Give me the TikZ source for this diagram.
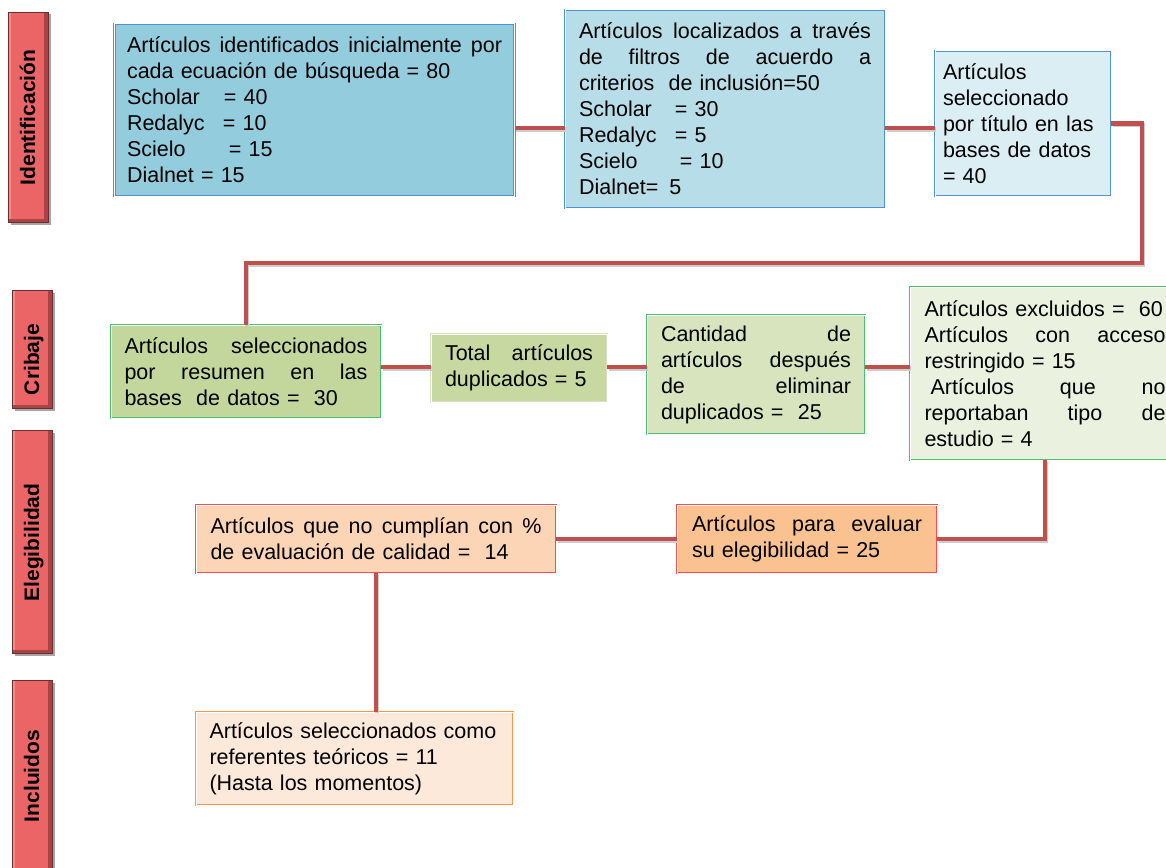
\documentclass[tikz,border=0pt]{standalone}
\usepackage{fontspec}
\setmainfont{Liberation Sans}
\usetikzlibrary{shadows}
\definecolor{bonefill}{HTML}{93CDDD}
\definecolor{btwofill}{HTML}{B7DEE8}
\definecolor{bthreefill}{HTML}{DBEEF4}
\definecolor{bblue}{HTML}{4F93D5}
\definecolor{conefill}{HTML}{C3D69B}
\definecolor{ctwofill}{HTML}{C7D9A1}
\definecolor{cthreefill}{HTML}{D7E4BD}
\definecolor{cfourfill}{HTML}{EBF1DF}
\definecolor{cgreen}{HTML}{4CC06F}
\definecolor{cfaint}{HTML}{D5E3C0}
\definecolor{eonefill}{HTML}{FBD5B5}
\definecolor{etwofill}{HTML}{FAC191}
\definecolor{ered}{HTML}{FF4A4A}
\definecolor{ionefill}{HTML}{FDE9D9}
\definecolor{iorange}{HTML}{F79646}
\definecolor{connred}{HTML}{C0504D}
\definecolor{barmid}{HTML}{EB6567}
\definecolor{barlight}{HTML}{F28C8C}
\definecolor{bardark}{HTML}{A84444}
\definecolor{bartop}{HTML}{6E2E2E}
\newcommand\jst[2]{{\spaceskip=\fontdimen2\font plus 1fil\relax\makebox[#1pt][s]{#2}}}
\newcommand\eqat[2]{\makebox[#1pt][l]{#2}}
\begin{document}
\begin{tikzpicture}[x=1pt,y=-1pt,
  box/.style={rectangle, inner xsep=0pt, inner ysep=2pt, align=left,
    font=\fontsize{21.5}{26}\selectfont, line width=0.6pt, double distance=1pt},
  conn/.style={draw=connred, line width=4.5pt,
    preaction={draw=black!20, line width=4.5pt, transform canvas={xshift=1.2pt, yshift=-1.5pt}}},
  bar/.style={rectangle, minimum width=40pt, inner sep=0pt, fill=barmid, draw=bartop, line width=0.8pt,
    drop shadow={shadow xshift=2.5pt, shadow yshift=-2.5pt, opacity=0.35, fill=black},
    path picture={
      \fill[barlight] (path picture bounding box.south west) rectangle ([xshift=3pt]path picture bounding box.north west);
      \fill[bardark] ([xshift=-4pt]path picture bounding box.south east) rectangle (path picture bounding box.north east);
      \fill[bardark] (path picture bounding box.south west) rectangle ([yshift=3pt]path picture bounding box.south east);
    }},
  barlbl/.style={rotate=90, font=\bfseries\fontsize{21}{24}\selectfont, text height=15pt, text depth=4.5pt, inner sep=0pt},
]
\useasboundingbox (0,0) rectangle (1166,867);

% side bars
\node[bar, minimum height=210pt] (barI) at (28,117) {};
\node[bar, minimum height=118pt] (barC) at (32,349) {};
\node[bar, minimum height=223pt] (barE) at (32,541.5) {};
\node[bar, minimum height=200pt] (barN) at (32,780) {};
\node[barlbl] (lblI) at (29.75,117.5) {Identificación};
\node[barlbl] (lblC) at (33.75,359.5) {Cribaje};
\node[barlbl] (lblE) at (33.75,542.5) {Elegibilidad};
\node[barlbl] (lblN) at (33.75,776) {Incluidos};

% Identificacion row
\node[box, fill=bonefill, draw=bblue, double=white, minimum width=400pt, minimum height=172pt, text width=375pt] (B1) at (314.5,110)
{\jst{375}{Artículos identificados inicialmente por}\\
cada ecuación de búsqueda = 80\\
\eqat{97}{Scholar}= 40\\
\eqat{96}{Redalyc}= 10\\
\eqat{102}{Scielo}= 15\\
Dialnet = 15};

\node[box, fill=btwofill, draw=bblue, double=white, minimum width=320pt, minimum height=198pt, text width=292pt] (B2) at (725,109)
{\jst{292}{Artículos localizados a través}\\
\jst{292}{de filtros de acuerdo a}\\
criterios\ \ de inclusión=50\\
\eqat{96}{Scholar}= 30\\
\eqat{96}{Redalyc}= 5\\
\eqat{101}{Scielo}= 10\\
Dialnet=\hspace{11pt}5};

\node[box, fill=bthreefill, draw=bblue, double=white, minimum width=176pt, minimum height=145pt, text width=160pt] (B3) at (1023,123.5)
{Artículos\\
seleccionado\\
por título en las\\
bases de datos\\
= 40};

% Cribaje row
\node[box, fill=conefill, draw=cgreen, double=white, minimum width=270pt, minimum height=93pt, text width=243pt] (C1) at (246,371.5)
{\jst{243}{Artículos seleccionados}\\
\jst{243}{por resumen en las}\\
bases\ \ de datos =\ \ 30};

\node[box, fill=ctwofill, draw=cfaint, minimum width=176pt, minimum height=68pt, text width=148pt] (C2) at (519,368)
{\jst{148}{Total artículos}\\
duplicados = 5};

\node[box, fill=cthreefill, draw=cgreen, double=white, minimum width=218pt, minimum height=119pt, text width=190pt] (C3) at (756,374.5)
{\jst{190}{Cantidad de}\\
\jst{190}{artículos después}\\
\jst{190}{de eliminar}\\
duplicados =\ \ 25};

\node[box, fill=cfourfill, draw=cgreen, double=white, minimum width=270pt, minimum height=173pt, text width=241pt] (C4) at (1045,373.5)
{Artículos excluidos =\ \ 60\\
\jst{241}{Artículos con acceso}\\
restringido = 15\\
\hspace*{6pt}\jst{235}{Artículos que no}\\
\jst{241}{reportaban tipo de}\\
estudio = 4};

% Elegibilidad row
\node[box, fill=eonefill, draw=ered, double=white, minimum width=360pt, minimum height=68pt, text width=331pt] (E1) at (376,539)
{\jst{331}{Artículos que no cumplían con \%}\\
de evaluación de calidad =\ \ 14};

\node[box, fill=etwofill, draw=ered, double=white, minimum width=260pt, minimum height=68pt, text width=230pt] (E2) at (807,539)
{\jst{230}{Artículos para evaluar}\\
su elegibilidad = 25};

% Incluidos row
\node[box, fill=ionefill, draw=iorange, double=white, minimum width=317pt, minimum height=93pt, text width=290pt] (I1) at (354.5,758.5)
{Artículos seleccionados como\\
referentes teóricos = 11\\
(Hasta los momentos)};

% routing coordinates
\coordinate (rowA) at (0,128);
\coordinate (rowB) at (0,367);
\coordinate (turnA) at (1142,263);

% connectors
\draw[conn] (B1.east |- rowA) -- (B2.west |- rowA);
\draw[conn] (B2.east |- rowA) -- (B3.west |- rowA);
\draw[conn] (B3.east) -| (turnA) -| (C1.north);
\draw[conn] (C1.east |- rowB) -- (C2.west |- rowB);
\draw[conn] (C2.east |- rowB) -- (C3.west |- rowB);
\draw[conn] (C3.east |- rowB) -- (C4.west |- rowB);
\draw[conn] (C4.south) |- (E2.east);
\draw[conn] (E2.west) -- (E1.east);
\draw[conn] (E1.south) -- (E1.south |- I1.north);
\end{tikzpicture}
\end{document}
